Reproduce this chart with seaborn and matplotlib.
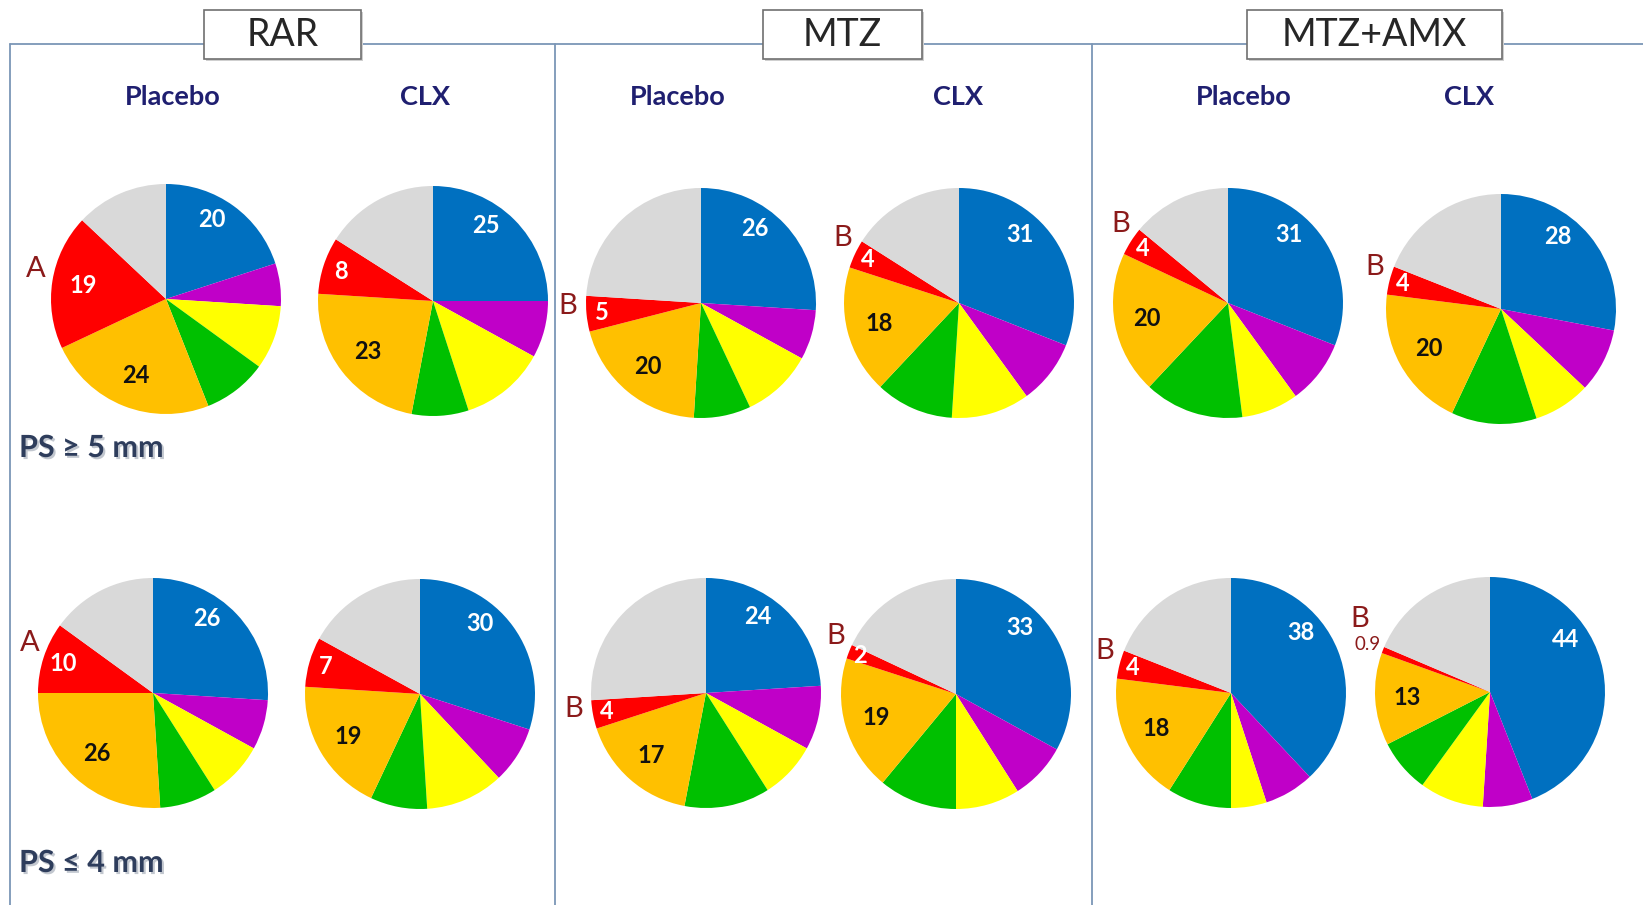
import numpy as np
import matplotlib
matplotlib.use("Agg")
import matplotlib.pyplot as plt
import seaborn as sns
from matplotlib.patches import Rectangle
import matplotlib.patheffects as pe

# ---------------- data ----------------
slice_names = ["blue", "purple", "yellow", "green", "orange", "red", "gray"]
labelled_slices = ["blue", "orange", "red"]

groups = ["RAR", "MTZ", "MTZ+AMX"]
arms = ["Placebo", "CLX"]
depth_labels = ["PS \u2265 5 mm", "PS \u2264 4 mm"]
# significance letter shown next to the red slice of each pie (per column)
pie_letters = ["A", "", "B", "B", "B", "B"]

# PS >= 5 mm
rar_placebo_ps5 = [20, 6, 9, 9, 24, 19, 13]
rar_clx_ps5 = [25, 8, 12, 8, 23, 8, 16]
mtz_placebo_ps5 = [26, 7, 10, 8, 20, 5, 24]
mtz_clx_ps5 = [31, 9, 11, 11, 18, 4, 16]
amx_placebo_ps5 = [31, 9, 8, 14, 20, 4, 14]
amx_clx_ps5 = [28, 9, 8, 12, 20, 4, 19]
# PS <= 4 mm
rar_placebo_ps4 = [26, 7, 8, 8, 26, 10, 15]
rar_clx_ps4 = [30, 8, 11, 8, 19, 7, 17]
mtz_placebo_ps4 = [24, 9, 8, 12, 17, 4, 26]
mtz_clx_ps4 = [33, 8, 9, 11, 19, 2, 18]
amx_placebo_ps4 = [38, 7, 5, 9, 18, 4, 19]
amx_clx_ps4 = [44, 7, 9, 7.5, 13, 0.9, 18.6]

pies_top = [rar_placebo_ps5, rar_clx_ps5, mtz_placebo_ps5,
            mtz_clx_ps5, amx_placebo_ps5, amx_clx_ps5]
pies_bottom = [rar_placebo_ps4, rar_clx_ps4, mtz_placebo_ps4,
               mtz_clx_ps4, amx_placebo_ps4, amx_clx_ps4]

# ---------------- style / layout ----------------
sns.set_theme(style="white")
plt.rcParams['font.family'] = ['Lato', 'DejaVu Sans']

palette = sns.color_palette(["#0070C0", "#C000C8", "#FFFF00", "#00C000",
                             "#FFC000", "#FF0000", "#D9D9D9"])
W, H = 1643, 905
R = 115
centers_top = [(166, 299), (433, 301), (701, 303), (959, 303), (1228, 303), (1501, 309)]
centers_bottom = [(153, 693), (420, 694), (706, 693), (956, 694), (1231, 693), (1490, 692)]
line_col = "#7B96B6"
letter_col = "#8B1A1A"
navy = "#1F1F70"
lab_fs = 17

fig = plt.figure(figsize=(W / 100, H / 100), dpi=100)
fig.patch.set_facecolor("white")
ax = fig.add_axes([0, 0, 1, 1])


def Y(y):
    return H - y


def draw_pie(vals, center, letter):
    cx, cy = center
    vals = np.asarray(vals, dtype=float)
    ax.pie(vals, colors=palette, startangle=90, counterclock=False,
           center=(cx, Y(cy)), radius=R, frame=True,
           wedgeprops=dict(linewidth=0))
    frac = vals / vals.sum() * 360
    ends = np.cumsum(frac)
    starts = ends - frac
    mids = (starts + ends) / 2

    def pos(ang, rf):
        t = np.deg2rad(ang)
        return cx + rf * R * np.sin(t), Y(cy) + rf * R * np.cos(t)

    for name in labelled_slices:
        i = slice_names.index(name)
        v = vals[i]
        txt = f"{v:g}"
        if name == "blue":
            x, y = pos(0.6 * mids[i] + 8, 0.80)
            ax.text(x, y, txt, ha="center", va="center", color="white",
                    fontsize=lab_fs, fontweight="bold")
        elif name == "orange":
            x, y = pos(mids[i], 0.72)
            ax.text(x, y, txt, ha="center", va="center", color="#111111",
                    fontsize=lab_fs, fontweight="bold")
        else:  # red
            if v < 1.5:
                x, y = pos(mids[i], 1.14)
                ax.text(x, y, txt, ha="center", va="center", color=letter_col,
                        fontsize=13.5)
                lx, ly = pos(mids[i] + 8, 1.30)
            else:
                x, y = pos(mids[i], 0.92 - 0.01 * v)
                ax.text(x, y, txt, ha="center", va="center", color="white",
                        fontsize=lab_fs, fontweight="bold")
                lx, ly = pos(mids[i] + 4, 1.16)
            if letter:
                ax.text(lx, ly, letter, ha="center", va="center", color=letter_col,
                        fontsize=21)


for vals, c, let in zip(pies_top, centers_top, pie_letters):
    draw_pie(vals, c, let)
for vals, c, let in zip(pies_bottom, centers_bottom, pie_letters):
    draw_pie(vals, c, let)

# frame lines
ax.plot([10, W], [Y(44), Y(44)], color=line_col, lw=1.3, zorder=1)
ax.plot([10, 10], [Y(44), 0], color=line_col, lw=1.3, zorder=1)
for xv in [555, 1092]:
    ax.plot([xv, xv], [Y(44), 0], color=line_col, lw=1.3, zorder=1)

# group title boxes
boxes = [(204, 361), (763, 922), (1247, 1502)]
for g, (x0, x1) in zip(groups, boxes):
    ax.add_patch(Rectangle((x0 + 2, Y(61)), x1 - x0, 49, facecolor="#cfcfcf",
                           edgecolor="none", zorder=3))
    ax.add_patch(Rectangle((x0, Y(59)), x1 - x0, 49, facecolor="white",
                           edgecolor="#6f6f6f", lw=1.2, zorder=4))
    ax.text((x0 + x1) / 2, Y(35), g, ha="center", va="center", fontsize=27,
            fontweight="normal", color="#262626", zorder=5)

# arm labels
arm_x = [173, 425, 678, 958, 1244, 1469]
for k, xv in enumerate(arm_x):
    ax.text(xv, Y(97), arms[k % 2], ha="center", va="center", fontsize=19.5,
            fontweight="bold", color=navy)

# pocket-depth labels
shadow = [pe.withSimplePatchShadow(offset=(1.5, -1.5), shadow_rgbFace="#9aa3b0", alpha=0.6)]
for lbl, yv in zip(depth_labels, [448, 863]):
    ax.text(19, Y(yv), lbl, ha="left", va="center", fontsize=22,
            fontweight="bold", color="#2E3D5C", path_effects=shadow)

ax.set_xlim(0, W)
ax.set_ylim(0, H)
ax.set_aspect("equal")
ax.axis("off")
fig.savefig("out.png", dpi=100, facecolor="white")
